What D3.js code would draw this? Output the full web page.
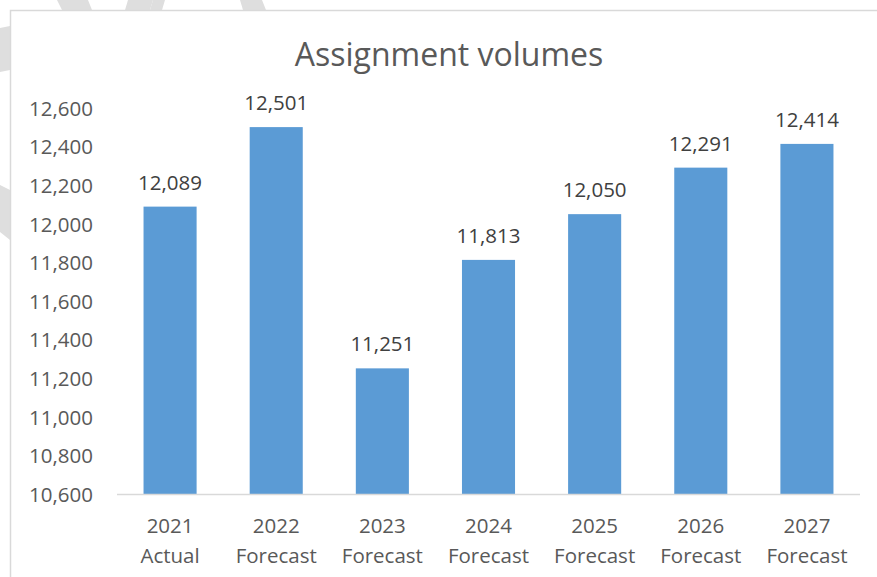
<!DOCTYPE html>
<html>
<head>
<meta charset="utf-8">
<script src="https://cdn.jsdelivr.net/npm/d3@7/dist/d3.min.js"></script>
<style>
  html, body { margin: 0; padding: 0; background: #fff; }
  svg { display: block; }
</style>
</head>
<body>
<svg id="chart" width="877" height="577"></svg>
<script>
const years = ["2021", "2022", "2023", "2024", "2025", "2026", "2027"];
const kinds = ["Actual", "Forecast", "Forecast", "Forecast", "Forecast", "Forecast", "Forecast"];
const values = [12089, 12501, 11251, 11813, 12050, 12291, 12414];
const yTicks = [10600, 10800, 11000, 11200, 11400, 11600, 11800, 12000, 12200, 12400, 12600];
const title = "Assignment volumes";

const FONT = "'Open Sans', 'Noto Sans', sans-serif";
const TEXT = "#595959";
const FS = 20.5;
const svg = d3.select("#chart");

// faint watermark shapes behind the chart box
const wm = svg.append("g").attr("fill", "#dedede");
wm.append("path").attr("d", "M57,0 L88,0 L92,10 L62,10 Z");
wm.append("path").attr("d", "M128,0 L153,0 L150,10 L125,10 Z");
wm.append("path").attr("d", "M153,0 L165,0 L162,10 L150,10 Z");
wm.append("path").attr("d", "M240,0 L262,0 L266,10 L243,10 Z");
wm.append("path").attr("d", "M0,28 L10,26 L10,70 L0,72 Z");
wm.append("path").attr("d", "M0,185 L10,190 L10,240 L0,232 Z");

// chart box
svg.append("rect").attr("x", 10.5).attr("y", 10.5).attr("width", 880).attr("height", 580)
  .attr("fill", "#fff").attr("stroke", "#d9d9d9").attr("stroke-width", 1.5);

const x = d3.scaleBand().domain(years).range([117, 860]).paddingInner(0.5).paddingOuter(0.25);
const y = d3.scaleLinear().domain([10600, 12600]).range([494, 108]);

// title
svg.append("text").attr("x", 449).attr("y", 66).attr("text-anchor", "middle")
  .attr("font-family", FONT).attr("font-size", 32).attr("fill", TEXT).text(title);

// y axis labels
const yAxis = d3.axisLeft(y).tickValues(yTicks).tickFormat(d3.format(",")).tickSize(0).tickPadding(0);
const gy = svg.append("g").attr("transform", "translate(93,0)").call(yAxis);
gy.select(".domain").remove();
gy.selectAll("text").attr("font-family", FONT).attr("font-size", FS).attr("fill", TEXT).attr("dy", "0.36em");

// bars
svg.append("g").selectAll("rect").data(values).join("rect")
  .attr("x", (d, i) => x(years[i]))
  .attr("y", d => y(d))
  .attr("width", x.bandwidth())
  .attr("height", d => y(10600) - y(d))
  .attr("fill", "#5b9bd5");

// value labels
svg.append("g").selectAll("text").data(values).join("text")
  .attr("x", (d, i) => x(years[i]) + x.bandwidth() / 2)
  .attr("y", d => y(d) - 17)
  .attr("text-anchor", "middle")
  .attr("font-family", FONT).attr("font-size", FS).attr("fill", "#404040")
  .text(d => d3.format(",")(d));

// x axis
const xAxis = d3.axisBottom(x).tickSize(0).tickFormat(() => "");
const gx = svg.append("g").attr("transform", "translate(0,494.5)").call(xAxis);
gx.select(".domain").attr("stroke", "#d9d9d9").attr("stroke-width", 1.5).attr("d", "M117,0H860");

const xl = svg.append("g").selectAll("text").data(years).join("text")
  .attr("text-anchor", "middle")
  .attr("font-family", FONT).attr("font-size", FS).attr("fill", TEXT);
xl.append("tspan").attr("x", d => x(d) + x.bandwidth() / 2).attr("y", 533).text(d => d);
xl.append("tspan").attr("x", d => x(d) + x.bandwidth() / 2).attr("y", 563).text((d, i) => kinds[i]);
</script>
</body>
</html>
